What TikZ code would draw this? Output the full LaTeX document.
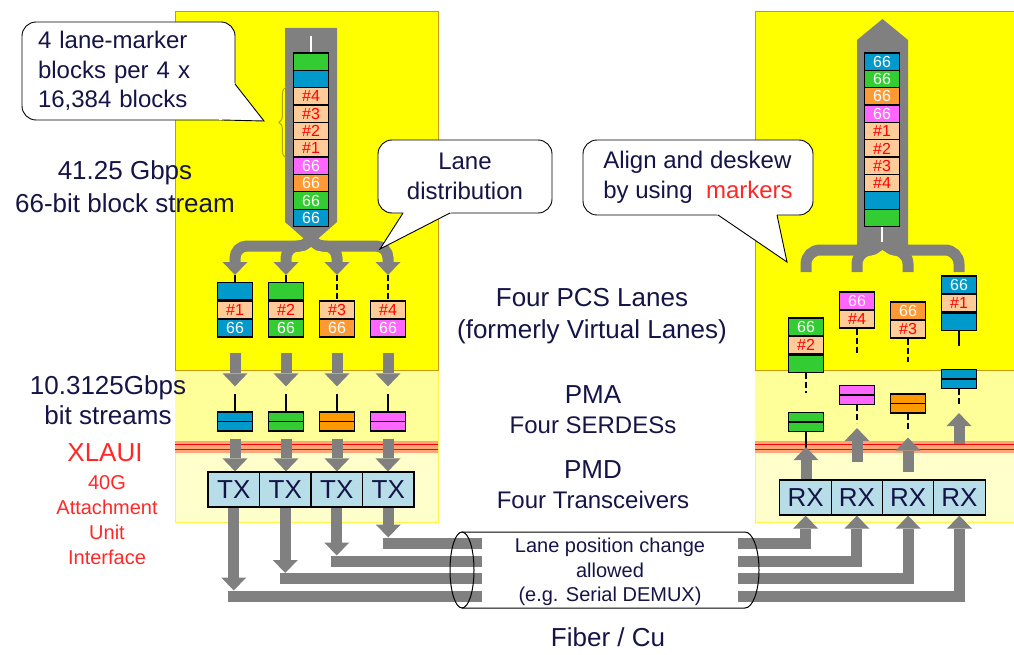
\documentclass[tikz,border=0pt]{standalone}
\usepackage{fontspec}
\setmainfont{Liberation Sans}
\usetikzlibrary{arrows.meta,positioning,calc,decorations.pathreplacing}

\definecolor{lblue}{RGB}{0,153,204}
\definecolor{lgreen}{RGB}{51,204,51}
\definecolor{lorange}{RGB}{255,153,51}
\definecolor{sorange}{RGB}{255,153,0}
\definecolor{lmag}{RGB}{255,102,255}
\definecolor{peach}{RGB}{255,204,153}
\definecolor{pcsyellow}{RGB}{255,255,0}
\definecolor{pmayellow}{RGB}{255,255,153}
\definecolor{pmdyellow}{RGB}{255,255,204}
\definecolor{edgecol}{RGB}{204,153,0}
\definecolor{trxblue}{RGB}{183,222,232}
\definecolor{txtblue}{RGB}{20,20,70}
\definecolor{streamgray}{RGB}{128,128,128}
\definecolor{bracecol}{RGB}{175,165,0}
\definecolor{redband}{RGB}{255,165,120}
\definecolor{lred}{RGB}{255,40,40}

\newcommand\bigfont{\fontsize{26}{32}\selectfont}
\newcommand\midfont{\fontsize{24}{29.5}\selectfont}
\newcommand\smallfont{\fontsize{20}{24.5}\selectfont}
\newcommand\blkfont{\fontsize{16}{16}\selectfont}

\begin{document}
\begin{tikzpicture}[x=1pt,y=-1pt,
	blk/.style={draw,line width=1.2pt,minimum width=35pt,minimum height=17.4pt,inner sep=0pt,font=\blkfont},
	pl/.style={blk,fill=#1,text=white},
	mk/.style={blk,fill=peach,text=red},
	serdes/.style={draw,line width=1.2pt,fill=#1,minimum width=35pt,minimum height=19pt,inner sep=0pt,path picture={\draw[line width=1.2pt] (path picture bounding box.west) -- (path picture bounding box.east);}},
	trx/.style={draw,line width=1.2pt,fill=trxblue,minimum width=51.5pt,minimum height=35pt,inner sep=0pt,text=txtblue,font=\bigfont},
	garrow/.style={draw=streamgray,line width=11pt,-{Triangle[length=13pt,width=25pt,line width=0pt]}},
	gbar/.style={draw=streamgray,line width=11pt},
	gfan/.style={garrow,rounded corners=12pt},
	rfan/.style={gbar,rounded corners=14pt},
	bline/.style={line width=1.2pt},
	dline/.style={bline,dash pattern=on 6pt off 3pt},
	bubble/.style={draw,line width=0.9pt,fill=white,rounded corners=14pt,text=txtblue,font=\midfont,inner sep=0pt,align=center},
	lbl/.style={text=txtblue,align=center,font=\bigfont}
]
	\useasboundingbox (0,0) rectangle (1014,655);
	\filldraw[fill=pmdyellow,draw=yellow!70,line width=1pt] (175,370) rectangle (438,522);
	\fill[pmayellow] (175,370) rectangle (438,441);
	\filldraw[fill=pcsyellow,draw=edgecol,line width=1pt] (175,12) rectangle (438,370);
	\fill[redband] (175,441) rectangle (438,453);
	\draw[red,line width=1.3pt] (175,444.5) -- (438,444.5) (175,449.5) -- (438,449.5);
	\filldraw[fill=pmdyellow,draw=yellow!70,line width=1pt] (755,370) rectangle (1020,522);
	\fill[pmayellow] (755,370) rectangle (1020,441);
	\filldraw[fill=pcsyellow,draw=edgecol,line width=1pt] (755,12) rectangle (1020,370);
	\fill[redband] (755,441) rectangle (1020,453);
	\draw[red,line width=1.3pt] (755,444.5) -- (1020,444.5) (755,449.5) -- (1020,449.5);

	\fill[streamgray] (285,28) -- (337,28) -- (337,222) -- (316.5,240) -- (305.5,240) -- (285,222) -- cycle;
	\fill[streamgray] (857,246) -- (857,40) -- (882.5,19) -- (908,40) -- (908,246) -- cycle;
	\coordinate (lneck) at (311,228);
	\coordinate (rneck) at (882.5,240);
	\foreach \x [count=\i] in {235,286,337,388} {
		\coordinate (lf\i) at (\x,275);
		\draw[gfan] (lneck) -- ++(0,18) -| (lf\i);
	}
	\foreach \x [count=\i] in {806,857,908,959} {
		\coordinate (rf\i) at (\x,272);
		\draw[rfan] (rneck) -- ++(0,10) -| (rf\i);
	}

	\foreach \fc/\labl/\tc [count=\i from 0] in {lgreen//white,lblue//white,peach/\#4/red,peach/\#3/red,peach/\#2/red,peach/\#1/red,lmag/66/white,lorange/66/white,lgreen/66/white,lblue/66/white}
		\node[blk,fill=\fc,text=\tc] (ls\i) at (311,{61.7+17.35*\i}) {\labl};
	\foreach \fc/\labl/\tc [count=\i from 0] in {lblue/66/white,lgreen/66/white,lorange/66/white,lmag/66/white,peach/\#1/red,peach/\#2/red,peach/\#3/red,peach/\#4/red,lblue//white,lgreen//white}
		\node[blk,fill=\fc,text=\tc] (rs\i) at (882,{61.7+17.35*\i}) {\labl};
	\draw[white,line width=1.5pt] (ls0.north) -- ++(0,-16);
	\draw[white,line width=1.5pt] (rs9.south) -- ++(0,15);
	\draw[bracecol,line width=1pt,decorate,decoration={brace,amplitude=7pt}] ([xshift=-7pt]ls5.south west) -- ([xshift=-7pt]ls2.north west);

	\foreach \x/\c/\m [count=\i] in {235/lblue/1,286/lgreen/2,337/lorange/3,388/lmag/4} {
		\node[pl=\c] (lb\i) at (\x,328.3) {66};
		\node[mk,above=0pt of lb\i] (lm\i) {\#\m};
	}
	\node[pl=lblue,above=0pt of lm1] (lt1) {};
	\node[pl=lgreen,above=0pt of lm2] (lt2) {};
	\draw[bline] (lf1) -- (lt1.north);
	\draw[bline] (lf2) -- (lt2.north);
	\draw[dline] (lf3) -- (lm3.north);
	\draw[dline] (lf4) -- (lm4.north);

	\foreach \x/\c/\m/\y [count=\i] in {806/lgreen/2/326.7,857/lmag/4/300.7,908/lorange/3/310.7,959/lblue/1/284.7} {
		\node[pl=\c] (rt\i) at (\x,\y) {66};
		\node[mk,below=0pt of rt\i] (rm\i) {\#\m};
	}
	\node[pl=lgreen,below=0pt of rm1] (rb1) {};
	\node[pl=lblue,below=0pt of rm4] (rb4) {};

	\foreach \x/\c [count=\i] in {235/lblue,286/lgreen,337/sorange,388/lmag}
		\node[serdes=\c] (lsd\i) at (\x,421.5) {};
	\foreach \x/\c/\y [count=\i] in {806/lgreen/422,857/lmag/395,908/sorange/403.5,959/lblue/379}
		\node[serdes=\c] (rsd\i) at (\x,\y) {};

	\foreach \i in {1,...,4} {
		\node[trx] (tx\i) at ({182.25+51.5*\i},489.5) {TX};
		\node[trx] (rx\i) at ({754.35+51.25*\i},497.5) {RX};
		\draw[garrow] ([yshift=-15pt]lb\i.south) -- ([yshift=25pt]lsd\i.north);
		\draw[bline] (lsd\i.north) -- ++(0,-17);
		\draw[garrow] ([yshift=-7pt]lsd\i.south) -- (lsd\i.south |- tx\i.north);
	}

	\draw[dline] (rb1.south) -- ++(0,20);
	\draw[dline] (rm2.south) -- ++(0,26);
	\draw[dline] (rm3.south) -- ++(0,23);
	\draw[bline] (rb4.south) -- ++(0,15);
	\draw[bline] (rsd1.south) -- ++(0,16);
	\draw[dline] (rsd2.south) -- ++(0,18);
	\draw[dline] (rsd3.south) -- ++(0,17);
	\draw[dline] (rsd4.south) -- ++(0,15);
	\draw[garrow] (rsd1.south |- rx1.north) -- ([yshift=-15pt]rsd1.south);
	\draw[garrow] ([yshift=17pt]rsd2.south |- rx2.north) -- ([yshift=-23pt]rsd2.south);
	\draw[garrow] ([yshift=7pt]rsd3.south |- rx3.north) -- ([yshift=-24pt]rsd3.south);
	\draw[garrow] ([yshift=35pt]rsd4.south |- rx4.north) -- ([yshift=-24pt]rsd4.south);

	\foreach \i/\y in {1/596,2/578.5,3/561,4/543} {
		\coordinate (cin\i) at (482,\y);
		\draw[gbar] ([xshift=-5.5pt]tx\i.south |- cin\i) -- (cin\i);
		\draw[garrow] (tx\i.south) -- ([yshift=5.5pt]tx\i.south |- cin\i);
	}
	\foreach \i/\y in {1/543,2/561,3/578.5,4/596} {
		\coordinate (cout\i) at (738,\y);
		\draw[gbar] (cout\i) -- ([xshift=5.5pt]rx\i.south |- cout\i);
		\draw[garrow] ([yshift=-5.5pt]rx\i.south |- cout\i) -- (rx\i.south);
	}
	\draw[line width=1pt] (462,570) ellipse [x radius=12,y radius=38];
	\draw[line width=1pt] (462,532) -- (745,532) arc[start angle=-90,end angle=90,x radius=14,y radius=38] -- (462,608);
	\node[lbl,font=\smallfont] (cab) at (610,572) {Lane position change\\allowed\\(e.g. Serial DEMUX)};

	\node[lbl,font=\fontsize{26}{33}\selectfont] (rate) at (125,186.5) {41.25 Gbps\\66-bit block stream};
	\node[lbl,font=\fontsize{26}{30}\selectfont] (bits) at (108,400) {10.3125Gbps\\bit streams};
	\node[lbl,text=lred] (xlaui) at (105,453) {XLAUI};
	\node[lbl,text=lred,font=\fontsize{20}{25}\selectfont] (aui) at (107,520.5) {40G\\Attachment\\Unit\\Interface};
	\node[lbl] (pcs) at (592,316) {Four PCS Lanes\\(formerly Virtual Lanes)};
	\node[lbl] (pma) at (593,395) {PMA};
	\node[lbl,font=\midfont] (serd) at (593,425) {Four SERDESs};
	\node[lbl] (pmd) at (593,470) {PMD};
	\node[lbl,font=\midfont] (trans) at (593,500) {Four Transceivers};
	\node[lbl] (fiber) at (608,637) {Fiber / Cu};

	\node[bubble,minimum width=213pt,minimum height=98pt,text width=181pt,inner xsep=16pt,align=left] (c1) at (128.5,71) {4 lane-marker\\blocks per 4 x\\16,384 blocks};
	\coordinate (t1) at (264,121);
	\fill[white] ($(t1)!1.08!(235,84)$) -- (t1) -- ($(t1)!1.08!(222,120)$) -- cycle;
	\draw[line width=0.9pt] (235,84) -- (t1) -- (222,120);
	\node[bubble,minimum width=174pt,minimum height=73pt,font=\fontsize{24}{30}\selectfont] (c2) at (465,176.5) {Lane\\distribution};
	\coordinate (t2) at (380,249);
	\fill[white] ($(t2)!1.1!(403,213)$) -- (t2) -- ($(t2)!1.1!(450,213)$) -- cycle;
	\draw[line width=0.9pt] (403,213) -- (t2) -- (450,213);
	\node[bubble,minimum width=230pt,minimum height=75pt,align=left] (c3) at (698,177.5) {Align and deskew\\by using \ \textcolor{lred}{markers}};
	\coordinate (t3) at (787,262);
	\fill[white] ($(t3)!1.1!(718,215)$) -- (t3) -- ($(t3)!1.1!(777,215)$) -- cycle;
	\draw[line width=0.9pt] (718,215) -- (t3) -- (777,215);
\end{tikzpicture}
\end{document}
